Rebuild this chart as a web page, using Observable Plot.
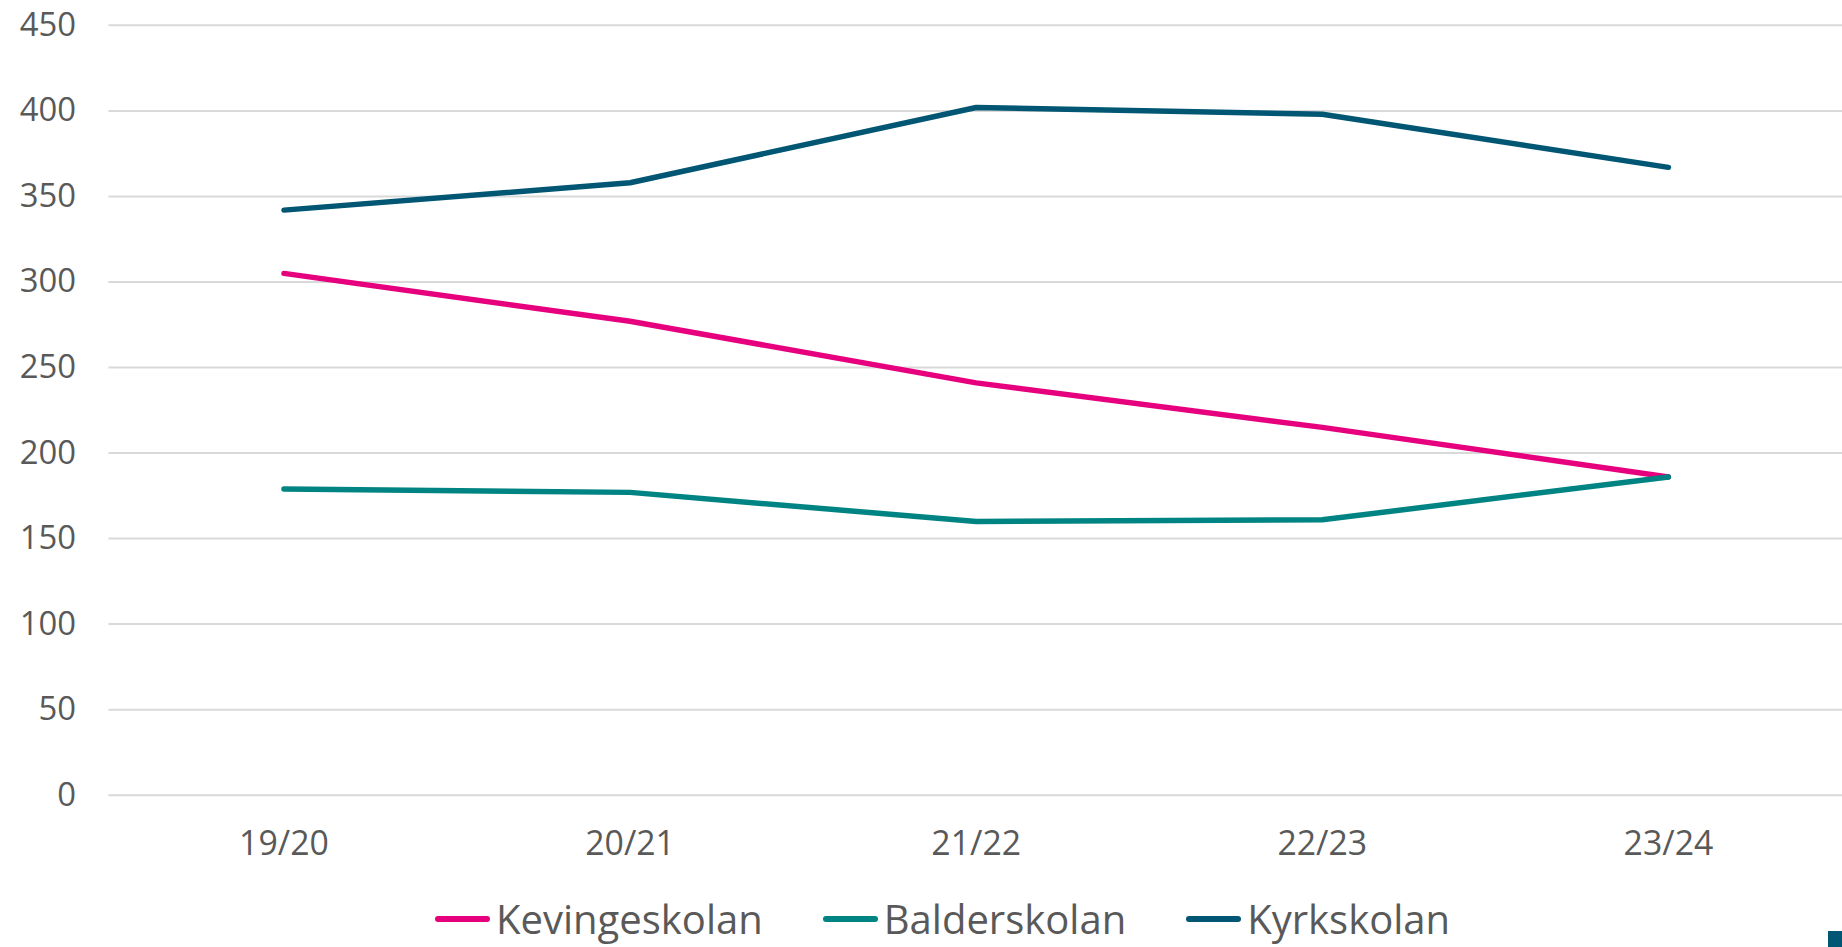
<!DOCTYPE html>
<html>
<head>
<meta charset="utf-8">
<script src="https://cdn.jsdelivr.net/npm/d3@7"></script>
<script src="https://cdn.jsdelivr.net/npm/@observablehq/plot@0.6"></script>
<style>
  html, body { margin: 0; padding: 0; background: #fff; overflow: hidden; width: 1842px; height: 947px; }
  #wrap { position: relative; width: 1842px; height: 947px; overflow: hidden; font-family: "Open Sans", sans-serif; }
  #chart svg { display: block; }
  #legend { position: absolute; left: 435px; top: 878px; height: 82px; display: flex; align-items: center; gap: 60px; color: #595959; font-size: 40px; line-height: 1; }
  .item { display: flex; align-items: center; }
  .sw { width: 55px; height: 6px; border-radius: 3px; margin-right: 6px; }
  #logo { position: absolute; left: 1828px; top: 931px; width: 14px; height: 16px; background: #005673; }
</style>
</head>
<body>
<div id="wrap">
  <div id="chart"></div>
  <div id="legend"></div>
  <div id="logo"></div>
</div>
<script>
const years = ["19/20", "20/21", "21/22", "22/23", "23/24"];
const schools = ["Kevingeskolan", "Balderskolan", "Kyrkskolan"];
const colors = ["#E6007E", "#008483", "#005673"];
const kevingeskolan = [305, 277, 241, 215, 186];
const balderskolan = [179, 177, 160, 161, 186];
const kyrkskolan = [342, 358, 402, 398, 367];
const yTicks = [0, 50, 100, 150, 200, 250, 300, 350, 400, 450];

const series = [kevingeskolan, balderskolan, kyrkskolan];
const data = [];
schools.forEach((s, i) => years.forEach((y, j) => data.push({school: s, year: y, value: series[i][j]})));

const chart = Plot.plot({
  width: 1852,
  height: 875,
  marginLeft: 109,
  marginRight: 0,
  marginTop: 25,
  marginBottom: 76,
  style: {fontFamily: "'Open Sans', sans-serif", fontSize: "34px", color: "#595959", background: "transparent", overflow: "visible"},
  x: {type: "point", domain: years, padding: 0.5, label: null},
  y: {domain: [0, 450], ticks: yTicks, label: null},
  color: {domain: schools, range: colors},
  marks: [
    Plot.gridY(yTicks, {stroke: "#d9d9d9", strokeOpacity: 1, strokeWidth: 2}),
    Plot.axisY(yTicks, {tickSize: 0, tickPadding: 33, fill: "#595959", fontSize: 33, label: null}),
    Plot.axisX({tickSize: 0, tickPadding: 36, fill: "#595959", fontSize: 34, label: null}),
    Plot.line(data, {x: "year", y: "value", z: "school", stroke: "school", strokeWidth: 5.5, strokeLinecap: "round", strokeLinejoin: "round"})
  ]
});
document.getElementById("chart").appendChild(chart);

const legend = document.getElementById("legend");
schools.forEach((s, i) => {
  const item = document.createElement("div");
  item.className = "item";
  const sw = document.createElement("div");
  sw.className = "sw";
  sw.style.background = colors[i];
  const t = document.createElement("span");
  t.textContent = s;
  item.appendChild(sw);
  item.appendChild(t);
  legend.appendChild(item);
});
</script>
</body>
</html>
